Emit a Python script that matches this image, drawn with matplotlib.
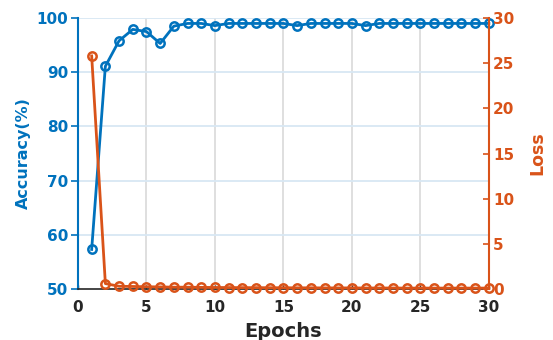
import matplotlib
matplotlib.use("Agg")
import matplotlib.pyplot as plt

epochs = list(range(1, 31))
accuracy = [57.3, 91.1, 95.8, 97.9, 97.5, 95.3, 98.5, 99.0, 99.0, 98.6,
            99.0, 99.0, 99.0, 99.0, 99.0, 98.6, 99.0, 99.0, 99.0, 99.0,
            98.6, 99.0, 99.0, 99.0, 99.0, 99.0, 99.0, 99.0, 99.0, 99.0]
loss = [25.8, 0.6, 0.3, 0.28, 0.25, 0.23, 0.2, 0.2, 0.18, 0.17,
        0.16, 0.15, 0.15, 0.14, 0.14, 0.13, 0.13, 0.12, 0.12, 0.12,
        0.11, 0.11, 0.11, 0.1, 0.1, 0.1, 0.1, 0.1, 0.1, 0.1]
xticks = [0, 5, 10, 15, 20, 25, 30]
acc_ticks = [50, 60, 70, 80, 90, 100]
loss_ticks = [0, 5, 10, 15, 20, 25, 30]

blue = "#0072BD"
orange = "#D95319"

plt.rcParams['font.family'] = ['DejaVu Sans']
plt.rcParams['font.weight'] = 'bold'

fig = plt.figure(figsize=(5.53, 3.40), dpi=100)
ax1 = fig.add_axes([0.141, 0.15, 0.743, 0.797])
ax2 = ax1.twinx()

# grids
for v in [5, 10, 15, 20, 25]:
    ax1.axvline(v, color="#dcdcdc", lw=1.3, zorder=0)
for h in [60, 70, 80, 90, 100]:
    ax1.axhline(h, color="#d8e7f3", lw=1.3, zorder=0)

ax1.plot(epochs, accuracy, color=blue, lw=2, marker='o', ms=6,
         mfc='none', mew=1.8, zorder=3, clip_on=False)
ax2.plot(epochs, loss, color=orange, lw=2, marker='o', ms=6,
         mfc='none', mew=1.8, zorder=3, clip_on=False)

ax1.set_xlim(0, 30)
ax1.set_ylim(50, 100)
ax2.set_ylim(0, 30)
ax1.set_xticks(xticks)
ax1.set_yticks(acc_ticks)
ax2.set_yticks(loss_ticks)

ax1.spines['top'].set_visible(False)
ax2.spines['top'].set_visible(False)
ax1.spines['right'].set_visible(False)
ax2.spines['left'].set_visible(False)
ax2.spines['bottom'].set_visible(False)
ax1.spines['left'].set_color(blue)
ax1.spines['left'].set_linewidth(1.5)
ax2.spines['right'].set_color(orange)
ax2.spines['right'].set_linewidth(1.5)
ax1.spines['bottom'].set_color("#262626")
ax1.spines['bottom'].set_linewidth(1.2)

ax1.tick_params(axis='y', colors=blue, labelsize=11, direction='out', length=5, width=1.2, pad=2)
ax2.tick_params(axis='y', colors=orange, labelsize=11, direction='in', length=4, width=1.2, pad=3)
ax1.tick_params(axis='x', colors="#262626", labelsize=11, direction='in', length=3, width=1, pad=8)
for lab in ax1.get_xticklabels() + ax1.get_yticklabels() + ax2.get_yticklabels():
    lab.set_fontweight('bold')

ax1.set_xlabel("Epochs", fontsize=14, fontweight='bold', color="#262626", labelpad=5)
ax1.set_ylabel("Accuracy(%)", fontsize=11.5, fontweight='bold', color=blue, labelpad=4)
ax2.set_ylabel("Loss", fontsize=12.5, fontweight='bold', color=orange, labelpad=10)

fig.savefig("out.png", dpi=100)
